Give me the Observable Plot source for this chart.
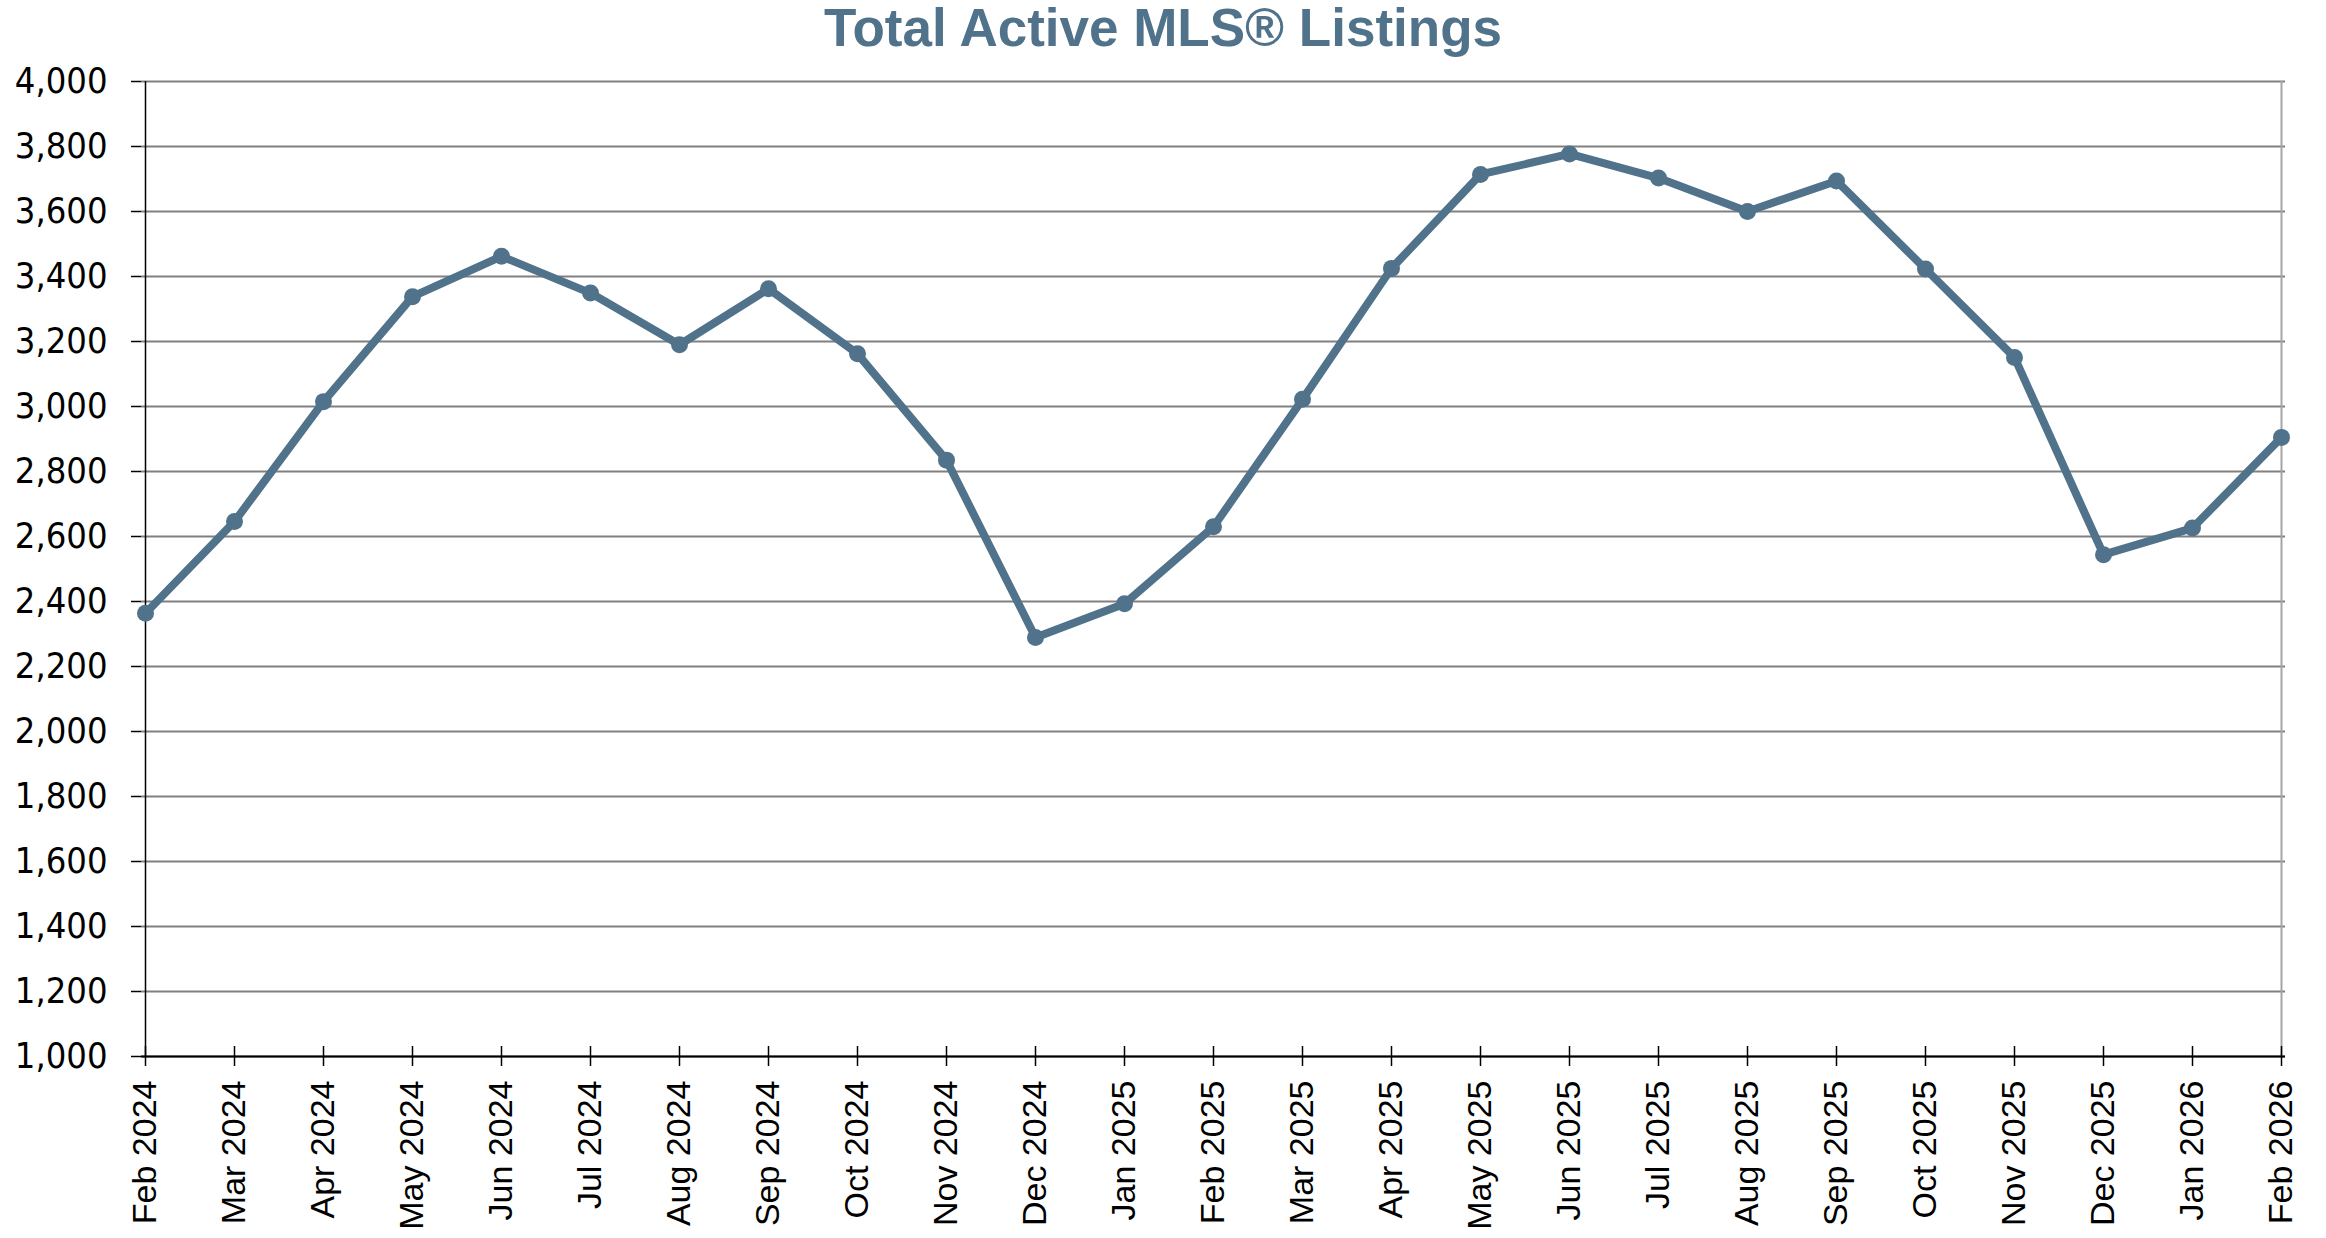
<!DOCTYPE html>
<html><head><meta charset="utf-8">
<script src="https://cdn.jsdelivr.net/npm/d3@7"></script>
<script src="https://cdn.jsdelivr.net/npm/@observablehq/plot@0.6"></script>
<style>
html,body{margin:0;padding:0;background:#fff;}
#title{height:62px;line-height:56px;margin:0;text-align:center;font-weight:bold;font-size:53px;font-family:"Liberation Sans",Arial,sans-serif;color:#50728a;white-space:nowrap;}
#chart svg{display:block;}
</style></head><body>
<div id="title">Total Active MLS® Listings</div>
<div id="chart"></div>
<script>
const months = ["Feb 2024","Mar 2024","Apr 2024","May 2024","Jun 2024","Jul 2024","Aug 2024","Sep 2024","Oct 2024","Nov 2024","Dec 2024",
  "Jan 2025","Feb 2025","Mar 2025","Apr 2025","May 2025","Jun 2025","Jul 2025","Aug 2025","Sep 2025","Oct 2025","Nov 2025","Dec 2025",
  "Jan 2026","Feb 2026"];
const listings = [2364,2646,3015,3338,3462,3349,3190,3362,3162,2835,2289,2393,2630,3022,3425,3714,3777,3703,3600,3694,3423,3151,2544,2626,2905];
const yTicks = [1000,1200,1400,1600,1800,2000,2200,2400,2600,2800,3000,3200,3400,3600,3800,4000];
const yDomain = [1000,4000];

const data = months.map((m,i)=>({month:m, value:listings[i]}));
const narrow = "'Liberation Sans Narrow','Arial Narrow','DejaVu Sans Condensed',sans-serif";
const chart = Plot.plot({
  width:2326, height:1176,
  marginLeft:141, marginRight:41, marginTop:19, marginBottom:182,
  style:{background:"#fff", color:"#000", fontFamily:"'Liberation Sans',Arial,sans-serif", overflow:"visible"},
  x:{type:"point", domain:months, padding:0},
  y:{domain:yDomain},
  marks:[
    Plot.ruleY(yTicks, {stroke:"#808080", strokeWidth:2}),
    Plot.ruleX([months[months.length-1]], {stroke:"#a6a6a6", strokeWidth:2}),
    Plot.axisY({ticks:yTicks, tickSize:10, tickPadding:24, tickFormat:d3.format(","), fontSize:36, fontFamily:narrow, stroke:"#000", strokeWidth:1.5, strokeOpacity:1, label:null}),
    Plot.axisX({tickSize:0, tickRotate:-90, tickPadding:24, fontSize:34, label:null}),
    Plot.ruleX(months, {x:d=>d, y1:yDomain[0], y2:yDomain[0], insetTop:-10, insetBottom:-10, stroke:"#000", strokeWidth:1.5}),
    Plot.ruleY([yDomain[0]], {stroke:"#000", strokeWidth:2}),
    Plot.ruleX([months[0]], {stroke:"#000", strokeWidth:1.5}),
    Plot.line(data, {x:"month", y:"value", stroke:"#50728a", strokeWidth:8, strokeLinejoin:"round"}),
    Plot.dot(data, {x:"month", y:"value", r:8.5, fill:"#50728a", stroke:"none"})
  ]
});
document.getElementById("chart").appendChild(chart);
</script>
</body></html>
